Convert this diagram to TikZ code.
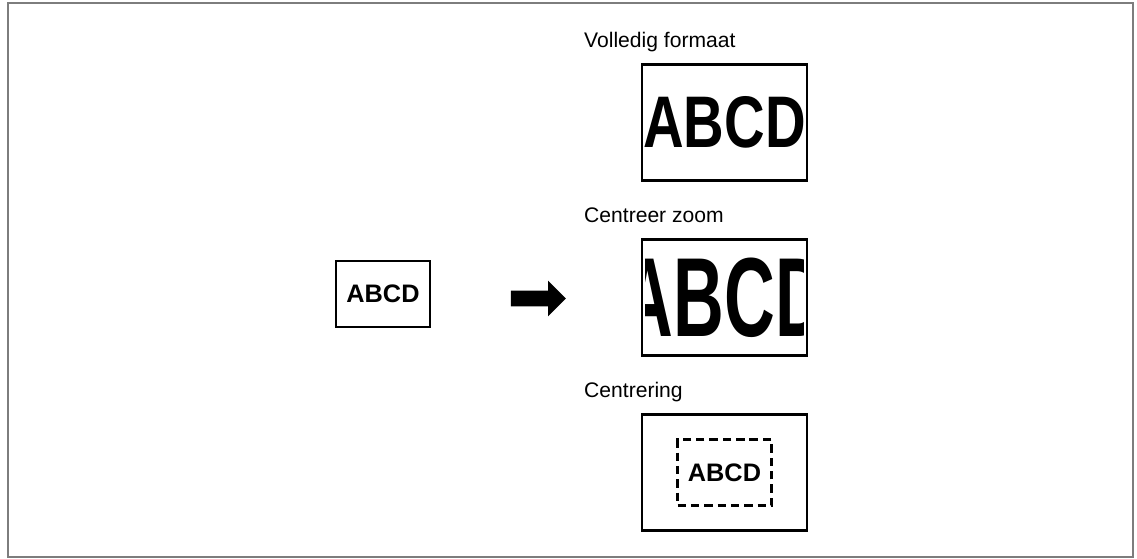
\documentclass[tikz,border=0pt]{standalone}
\usepackage{fontspec}
\setmainfont{Liberation Sans}
\usetikzlibrary{positioning, shapes.arrows}
\definecolor{framegray}{RGB}{125, 125, 125}

\begin{document}
\begin{tikzpicture}[node distance=4.375cm,
    box/.style={draw, rectangle, line width=1.5pt, minimum width=4.125cm, minimum height=2.9cm, inner sep=0pt},
    page/.style={draw, rectangle, line width=1.2pt, minimum width=2.35cm, minimum height=1.65cm, inner sep=0pt, font=\fontsize{18}{18}\selectfont\bfseries},
    caption/.style={anchor=base west, inner sep=0pt, font=\fontsize{15}{15}\selectfont}]
    \useasboundingbox (0,0) rectangle (28.425,-13.975);
    \draw[framegray, line width=1.2pt] (0.2,-0.075) rectangle (28.325,-13.925);

    % original and arrow
    \node[page] (source) at (9.575,-7.35) {ABCD};
    \node[single arrow, fill=black, inner sep=0.1875cm, minimum height=1.375cm, single arrow head extend=0.25cm] (arrow) at (13.3625,-7.4625) {};

    % the three results
    \node[box] (full) at (18.1125,-3.0625) {\fontsize{40}{40}\selectfont\bfseries\scalebox{1}[1.3]{ABCD}};
    \node[box, below of=full] (zoom) {};
    \node[box, below of=zoom] (centre) {};

    \begin{scope}
        \clip ([shift={(0.125,-0.125)}]zoom.north west) rectangle ([shift={(-0.125,0.125)}]zoom.south east);
        \node[inner sep=0pt] (zoomtext) at (zoom) {\fontsize{50}{50}\selectfont\bfseries\scalebox{1}[1.6]{ABCD}};
    \end{scope}
    \node[page, dashed, line width=1.8pt, dash pattern=on 6pt off 3.5pt] (centred) at (centre) {ABCD};

    \node[caption] (fullname) at ([shift={(-1.425,0.4)}]full.north west) {Volledig formaat};
    \node[caption] (zoomname) at ([shift={(-1.425,0.4)}]zoom.north west) {Centreer zoom};
    \node[caption] (centrename) at ([shift={(-1.425,0.4)}]centre.north west) {Centrering};
\end{tikzpicture}
\end{document}
